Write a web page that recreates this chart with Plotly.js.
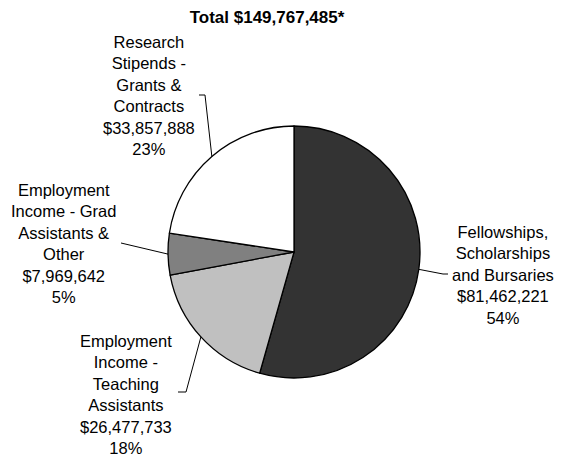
<!DOCTYPE html>
<html>
<head>
<meta charset="utf-8">
<script src="https://cdn.plot.ly/plotly-3.0.1.min.js"></script>
<style>html,body{margin:0;padding:0;background:#fff;}#chart{width:563px;height:457px;}</style>
</head>
<body>
<div id="chart"></div>
<script>
var categories = [
  "Fellowships, Scholarships and Bursaries",
  "Employment Income - Teaching Assistants",
  "Employment Income - Grad Assistants & Other",
  "Research Stipends - Grants & Contracts"
];
var labelLines = [
  ["Fellowships,", "Scholarships", "and Bursaries"],
  ["Employment", "Income -", "Teaching", "Assistants"],
  ["Employment", "Income - Grad", "Assistants &", "Other"],
  ["Research", "Stipends -", "Grants &", "Contracts"]
];
var values = [81462221, 26477733, 7969642, 33857888];
var percents = ["54%", "18%", "5%", "23%"];
var colors = ["#333333", "#c0c0c0", "#808080", "#ffffff"];
var titleText = "Total $149,767,485*";

var W = 563, H = 457;
var cx = 294, cy = 252, R = 126;
function px(x) { return x / W; }
function py(y) { return 1 - y / H; }

// label block centres (pixels) and leader bend points
var labelPos = [[503, 274.5], [126, 394], [63, 243.5], [149, 96]];
var bends = [
  [[443, 274], [448, 274]],
  [[186, 392], [178, 392]],
  [[121, 243]],
  [[205, 95], [199, 95]]
];

var total = values.reduce(function (a, b) { return a + b; }, 0);
function fmt(v) { return "$" + v.toLocaleString("en-US"); }

var font = "Liberation Sans, Arial, sans-serif";
var annotations = [];
var shapes = [];
var cum = 0;
for (var i = 0; i < values.length; i++) {
  var mid = (cum + values[i] / 2) / total * 2 * Math.PI;
  cum += values[i];
  var ex = cx + R * Math.sin(mid), ey = cy - R * Math.cos(mid);
  var pts = [[ex, ey]].concat(bends[i]);
  var path = "M " + pts.map(function (p) { return px(p[0]) + "," + py(p[1]); }).join(" L ");
  shapes.push({type: "path", xref: "paper", yref: "paper", path: path,
    line: {color: "#000", width: 1}});
  var txt = labelLines[i].concat([fmt(values[i]), percents[i]]).join("<br>");
  annotations.push({xref: "paper", yref: "paper", x: px(labelPos[i][0]), y: py(labelPos[i][1]),
    xanchor: "center", yanchor: "middle", align: "center", showarrow: false,
    text: txt, font: {family: font, size: 16.5, color: "#000"}});
}

var trace = {
  type: "pie",
  labels: categories,
  values: values,
  sort: false,
  direction: "clockwise",
  rotation: 0,
  textinfo: "none",
  hoverinfo: "label+value+percent",
  marker: {colors: colors, line: {color: "#000", width: 1.3}},
  domain: {x: [px(cx - R), px(cx + R)], y: [py(cy + R), py(cy - R)]},
  showlegend: false
};

var layout = {
  width: W, height: H,
  margin: {l: 0, r: 0, t: 0, b: 0},
  paper_bgcolor: "#fff",
  title: {text: "<b>" + titleText + "</b>", x: px(267), y: py(17), xanchor: "center", yanchor: "middle",
    font: {family: font, size: 17, color: "#000"}},
  annotations: annotations,
  shapes: shapes,
  showlegend: false
};

Plotly.newPlot("chart", [trace], layout, {staticPlot: true, displayModeBar: false});
</script>
</body>
</html>
